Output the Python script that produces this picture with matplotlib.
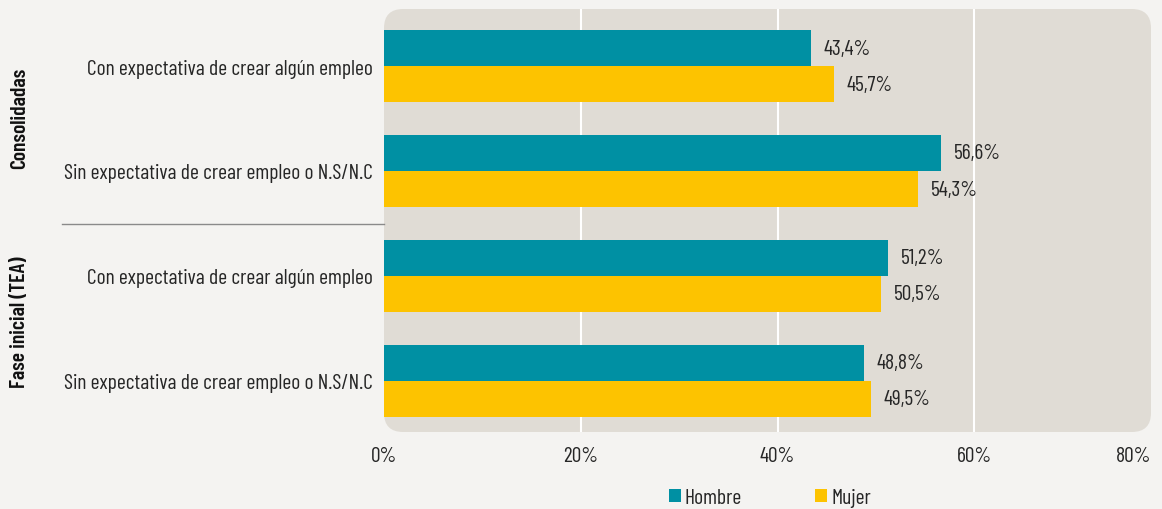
import matplotlib
matplotlib.use("Agg")
import matplotlib.pyplot as plt
from matplotlib.patches import FancyBboxPatch, Patch
from matplotlib.lines import Line2D

categories = ["Con expectativa de crear algún empleo",
              "Sin expectativa de crear empleo o N.S/N.C",
              "Con expectativa de crear algún empleo",
              "Sin expectativa de crear empleo o N.S/N.C"]
groups = ["Consolidadas", "Fase inicial (TEA)"]
hombre = [43.4, 56.6, 51.2, 48.8]
mujer = [45.7, 54.3, 50.5, 49.5]
xticks = [0, 20, 40, 60, 80]
xticklabels = ["0%", "20%", "40%", "60%", "80%"]
series = ["Hombre", "Mujer"]

TEAL = "#0090a3"
YELLOW = "#fdc300"
BG = "#f4f3f1"
PANEL = "#e0dcd5"
TXT = "#262626"

FONT = ["Barlow Condensed", "DejaVu Sans"]
plt.rcParams["font.family"] = FONT
plt.rcParams["font.weight"] = 400
FS = 15.5

W, H = 1162, 510
fig = plt.figure(figsize=(W / 100, H / 100), dpi=100, facecolor=BG)
x0, x1 = 384, 1151
y0, y1 = 10, 433
ax = fig.add_axes([x0 / W, 1 - y1 / H, (x1 - x0) / W, (y1 - y0) / H])
ax.set_facecolor("none")
xmax = (x1 - x0) / 9.84
ax.set_xlim(0, xmax)
ax.set_ylim(3.486, -0.543)

panel = FancyBboxPatch((0, 0), 1, 1, boxstyle="round,pad=0,rounding_size=0.025",
                       transform=ax.transAxes, facecolor=PANEL, edgecolor="none",
                       zorder=0, mutation_aspect=(x1 - x0) / (y1 - y0))
ax.add_patch(panel)
for t in xticks[1:]:
    if t < xmax:
        ax.axvline(t, color="white", lw=1.5, zorder=1)

h = 0.343
ys = list(range(len(categories)))
ax.barh([y - h / 2 for y in ys], hombre, height=h, color=TEAL, zorder=2)
ax.barh([y + h / 2 for y in ys], mujer, height=h, color=YELLOW, zorder=2)
for y, a, b in zip(ys, hombre, mujer):
    ax.text(a + 1.3, y - h / 2, f"{a:.1f}%".replace(".", ","), va="center", ha="left",
            fontsize=FS, color=TXT)
    ax.text(b + 1.3, y + h / 2, f"{b:.1f}%".replace(".", ","), va="center", ha="left",
            fontsize=FS, color=TXT)

for s in ax.spines.values():
    s.set_visible(False)
ax.set_yticks(ys)
ax.set_yticklabels(categories, fontsize=FS, color=TXT)
ax.tick_params(axis="y", length=0, pad=8)
ax.set_xticks([t for t in xticks if t < xmax])
ax.set_xticklabels([l for t, l in zip(xticks, xticklabels) if t < xmax], fontsize=FS, color=TXT)
ax.tick_params(axis="x", length=0, pad=10)
ax.annotate(xticklabels[-1], xy=(1.0, 0.0), xycoords="axes fraction", xytext=(0, -10),
            textcoords="offset points", ha="right", va="top", fontsize=FS, color=TXT)

# separator and group labels
fig.add_artist(Line2D([62 / W, x0 / W], [1 - 225 / H, 1 - 225 / H], color="#8a8a8a", lw=1))
fig.text(20 / W, 1 - 118 / H, groups[0], rotation=90, ha="center", va="center",
         fontsize=FS, fontweight=600, color="#111111")
fig.text(20 / W, 1 - 322 / H, groups[1], rotation=90, ha="center", va="center",
         fontsize=FS, fontweight=600, color="#111111")

handles = [Patch(facecolor=TEAL, label=series[0]), Patch(facecolor=YELLOW, label=series[1])]
leg = fig.legend(handles=handles, loc="center", bbox_to_anchor=(770 / W, 1 - 499 / H),
                 ncol=2, frameon=False, fontsize=FS, handlelength=0.55, handleheight=0.55,
                 handletextpad=0.2, columnspacing=3.4)
for t in leg.get_texts():
    t.set_color(TXT)

fig.savefig("out.png", dpi=100, facecolor=BG)
